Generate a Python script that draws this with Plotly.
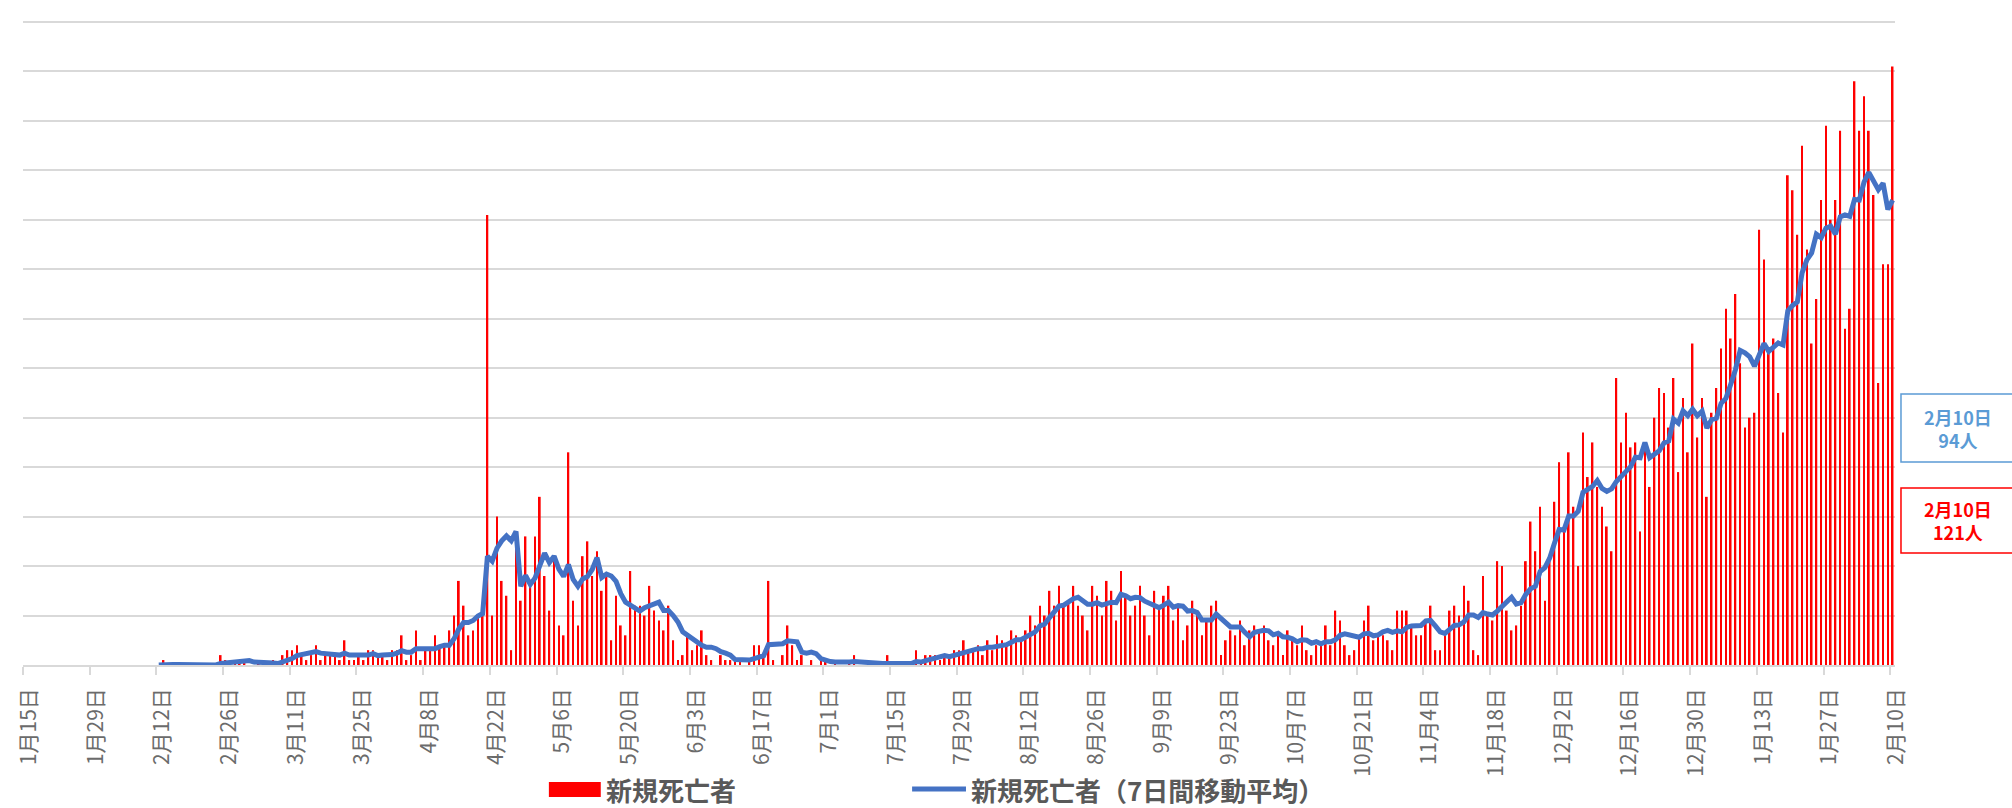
import pandas as pd
import plotly.graph_objects as go

# ---------------- data ----------------
start_date = "2020-02-12"

# daily new deaths
deaths_2020_02 = [0, 1, 0, 0, 0, 0, 0, 0, 0, 0, 0, 0, 0, 2, 1, 0, 1, 1]
deaths_2020_03 = [1, 0, 0, 1, 0, 0, 1, 0, 2, 3, 3, 4, 2, 1, 2, 4, 1, 2, 2, 2, 1, 5, 1, 1, 2, 1, 3, 3, 2, 2, 1]
deaths_2020_04 = [3, 3, 6, 1, 2, 7, 1, 3, 3, 6, 4, 4, 7, 10, 17, 12, 6, 7, 10, 11, 91, 10, 30, 17, 14, 3, 24, 13, 26, 17]
deaths_2020_05 = [26, 34, 18, 11, 22, 8, 6, 43, 13, 8, 22, 25, 18, 23, 15, 18, 5, 14, 8, 6, 19, 12, 12, 10, 16, 11, 9, 7, 12, 5, 1]
deaths_2020_06 = [2, 6, 3, 4, 7, 2, 1, 0, 2, 1, 1, 1, 1, 0, 1, 4, 4, 2, 17, 1, 0, 2, 8, 4, 1, 2, 0, 1, 0, 1]
deaths_2020_07 = [1, 0, 1, 0, 0, 1, 2, 0, 0, 0, 0, 0, 0, 2, 0, 0, 0, 0, 0, 3, 1, 2, 2, 2, 1, 2, 2, 3, 3, 5, 3]
deaths_2020_08 = [3, 4, 2, 5, 3, 6, 5, 4, 7, 6, 5, 7, 10, 8, 12, 10, 15, 12, 16, 12, 13, 16, 12, 10, 7, 16, 14, 10, 17, 15, 9]
deaths_2020_09 = [19, 14, 10, 12, 16, 10, 6, 15, 12, 14, 16, 9, 12, 5, 8, 13, 11, 6, 9, 12, 13, 2, 5, 7, 6, 9, 4, 7, 8, 7]
deaths_2020_10 = [8, 5, 4, 6, 2, 7, 5, 4, 8, 3, 2, 4, 4, 8, 4, 11, 9, 4, 2, 3, 6, 9, 12, 5, 6, 6, 5, 3, 11, 11, 11]
deaths_2020_11 = [8, 6, 6, 9, 12, 3, 3, 6, 11, 12, 10, 16, 13, 3, 2, 18, 10, 9, 21, 20, 11, 7, 8, 12, 21, 29, 23, 32, 13, 21]
deaths_2020_12 = [33, 41, 28, 43, 32, 20, 47, 38, 45, 36, 32, 28, 23, 58, 45, 51, 44, 45, 27, 45, 36, 50, 56, 55, 48, 58, 39, 54, 43, 65, 46]
deaths_2021_01 = [54, 34, 51, 56, 64, 72, 66, 75, 61, 48, 50, 51, 88, 82, 64, 66, 55, 47, 99, 96, 87, 105, 84, 65, 74, 94, 109, 90, 94, 108, 68]
deaths_2021_02 = [72, 118, 108, 115, 108, 95, 57, 81, 81, 121]

# 7-day moving average (blue line)
avg_2020_02 = [0.0, 0.1, 0.1, 0.1, 0.1, 0.1, 0.1, 0.1, 0.0, 0.0, 0.0, 0.0, 0.0, 0.3, 0.4, 0.4, 0.6, 0.7]
avg_2020_03 = [0.9, 0.9, 0.6, 0.6, 0.6, 0.4, 0.4, 0.3, 0.6, 1.0, 1.3, 1.9, 2.1, 2.1, 2.4, 2.7, 2.4, 2.3, 2.0, 2.0,
               2.0, 2.4, 2.0, 2.0, 2.0, 1.9, 2.0, 2.3, 1.9, 2.0, 2.0]
avg_2020_04 = [2.1, 2.4, 2.9, 2.6, 2.6, 3.3, 3.3, 3.3, 3.3, 3.3, 3.7, 4.0, 4.0, 5.3, 7.3, 8.6, 8.6, 9.0, 9.9, 10.4,
               22.0, 21.0, 23.6, 25.1, 26.1, 25.1, 27.0, 15.9, 18.1, 16.3]
avg_2020_05 = [17.6, 20.4, 22.6, 20.7, 22.0, 19.4, 17.9, 20.3, 17.3, 15.9, 17.4, 17.9, 19.3, 21.7, 17.7, 18.4,
               18.0, 16.9, 14.4, 12.7, 12.1, 11.7, 10.9, 11.6, 11.9, 12.3, 12.7, 11.0, 11.0, 10.0, 8.7]
avg_2020_06 = [6.7, 6.0, 5.1, 4.7, 4.0, 3.6, 3.6, 3.3, 2.7, 2.4, 2.0, 1.1, 1.0, 0.9, 1.0, 1.3, 1.7, 1.9, 4.1, 4.1,
               4.1, 4.3, 4.9, 4.9, 4.7, 2.6, 2.4, 2.6, 2.3, 1.3]
avg_2020_07 = [0.9, 0.7, 0.6, 0.6, 0.4, 0.6, 0.7, 0.6, 0.6, 0.4, 0.4, 0.4, 0.3, 0.3, 0.3, 0.3, 0.3, 0.3, 0.3, 0.7,
               0.6, 0.9, 1.1, 1.4, 1.6, 1.9, 1.7, 2.0, 2.1, 2.6, 2.7]
avg_2020_08 = [3.0, 3.3, 3.3, 3.6, 3.6, 3.7, 4.0, 4.1, 4.6, 5.1, 5.1, 5.7, 6.3, 6.7, 7.9, 8.3, 9.6, 10.6, 11.9, 12.1,
               12.9, 13.4, 13.7, 13.0, 12.3, 12.3, 12.6, 12.1, 12.3, 12.7, 12.6]
avg_2020_09 = [14.3, 14.0, 13.4, 13.7, 13.6, 12.9, 12.4, 11.9, 11.6, 12.1, 12.7, 11.7, 12.0, 11.9, 10.9, 11.0,
               10.6, 9.1, 9.1, 9.1, 10.3, 9.4, 8.3, 7.7, 7.7, 7.7, 6.6, 5.7, 6.6, 6.9]
avg_2020_10 = [7.0, 6.9, 6.1, 6.4, 5.7, 5.6, 5.3, 4.7, 5.1, 5.0, 4.4, 4.7, 4.3, 4.7, 4.7, 5.1, 6.0, 6.3, 6.0, 5.9,
               5.6, 6.3, 6.4, 5.9, 6.1, 6.7, 7.0, 6.6, 6.9, 6.7, 7.6]
avg_2020_11 = [7.9, 7.9, 8.0, 8.9, 9.0, 7.9, 6.7, 6.4, 7.1, 8.0, 8.1, 8.7, 10.1, 10.1, 9.6, 10.6, 10.3, 10.1, 10.9,
               11.9, 13.0, 13.7, 12.3, 12.6, 14.3, 15.4, 15.9, 18.9, 19.7, 21.6]
avg_2020_12 = [24.6, 27.4, 27.3, 30.1, 30.1, 31.1, 34.9, 35.6, 36.1, 37.3, 35.7, 35.1, 35.6, 37.1, 38.1, 39.0,
               40.1, 42.0, 41.9, 45.0, 41.9, 42.6, 43.3, 44.9, 45.3, 49.7, 48.9, 51.4, 50.4, 51.7, 50.4]
avg_2021_01 = [51.3, 47.9, 49.6, 49.9, 52.9, 53.9, 56.7, 59.7, 63.6, 63.1, 62.3, 60.4, 62.7, 65.0, 63.4, 64.1,
               65.1, 64.7, 71.6, 72.7, 73.4, 79.3, 81.9, 83.3, 87.1, 86.4, 88.3, 88.7, 87.1, 90.6, 91.0]
avg_2021_02 = [90.7, 94.1, 94.0, 97.6, 99.6, 97.7, 96.1, 97.4, 92.1, 94.0]

tick_labels = ["1月15日", "1月29日", "2月12日", "2月26日", "3月11日", "3月25日", "4月8日",
               "4月22日", "5月6日", "5月20日", "6月3日", "6月17日", "7月1日", "7月15日",
               "7月29日", "8月12日", "8月26日", "9月9日", "9月23日", "10月7日", "10月21日",
               "11月4日", "11月18日", "12月2日", "12月16日", "12月30日", "1月13日", "1月27日",
               "2月10日"]

legend_bar = "新規死亡者"
legend_line = "新規死亡者（7日間移動平均）"
last_label_date = "2月10日"
last_avg_label = "94人"
last_day_label = "121人"

deaths = (deaths_2020_02 + deaths_2020_03 + deaths_2020_04 + deaths_2020_05 + deaths_2020_06 +
          deaths_2020_07 + deaths_2020_08 + deaths_2020_09 + deaths_2020_10 + deaths_2020_11 +
          deaths_2020_12 + deaths_2021_01 + deaths_2021_02)
avg7 = (avg_2020_02 + avg_2020_03 + avg_2020_04 + avg_2020_05 + avg_2020_06 + avg_2020_07 +
        avg_2020_08 + avg_2020_09 + avg_2020_10 + avg_2020_11 + avg_2020_12 + avg_2021_01 + avg_2021_02)

dates = pd.date_range(start_date, periods=len(deaths), freq="D")
x_mid = dates + pd.Timedelta(hours=12)
tick_vals = pd.date_range("2020-01-15", periods=len(tick_labels), freq="14D")

# ---------------- figure ----------------
W, H = 2012, 808
L, R, T, B = 19, 117, 20, 143
pw, ph = W - L - R, H - T - B


def px(xp):
    return (xp - L) / pw


def py(yp):
    return (H - B - yp) / ph


fig = go.Figure()
fig.add_trace(go.Bar(x=x_mid, y=deaths, width=0.36 * 86400000,
                     marker=dict(color="#FF0000", line=dict(width=0)),
                     name=legend_bar, showlegend=False))
fig.add_trace(go.Scatter(x=x_mid, y=avg7, mode="lines",
                         line=dict(color="#4472C4", width=5),
                         name=legend_line, showlegend=False))

fig.update_layout(
    width=W, height=H,
    margin=dict(l=L, r=R, t=T, b=B),
    paper_bgcolor="white", plot_bgcolor="white",
    font=dict(family="Noto Sans CJK JP", color="#595959"),
    xaxis=dict(type="date", range=["2020-01-15", "2021-02-11"],
               tickmode="array", tickvals=tick_vals, ticktext=tick_labels,
               tickangle=-90, ticks="outside", ticklen=8, tickwidth=1.5,
               tickcolor="#D9D9D9", showline=True, linecolor="#D9D9D9",
               linewidth=1.5, showgrid=False, zeroline=False,
               tickfont=dict(size=21, color="#6B6B6B", family="Noto Sans CJK JP"),
               ticklabelshift=6, ticklabelstandoff=5),
    yaxis=dict(range=[0, 130.4], dtick=10, tick0=0, showgrid=True,
               gridcolor="#D9D9D9", gridwidth=1.5, showticklabels=False,
               zeroline=False, showline=False, ticks=""),
)

shapes = []
# legend keys
shapes.append(dict(type="rect", xref="paper", yref="paper",
                   x0=px(546), x1=px(598), y0=py(797), y1=py(782),
                   fillcolor="#FF0000", line=dict(width=0)))
shapes.append(dict(type="line", xref="paper", yref="paper",
                   x0=px(910), x1=px(964), y0=py(789), y1=py(789),
                   line=dict(color="#4472C4", width=5)))
# value boxes on the right
shapes.append(dict(type="rect", xref="paper", yref="paper",
                   x0=px(1901), x1=px(2030), y0=py(462), y1=py(394),
                   line=dict(color="#5B9BD5", width=1.5), fillcolor="white"))
shapes.append(dict(type="rect", xref="paper", yref="paper",
                   x0=px(1901), x1=px(2030), y0=py(553), y1=py(488),
                   line=dict(color="#FF0000", width=1.5), fillcolor="white"))
fig.update_layout(shapes=shapes)

ann = []
ann.append(dict(text="<b>" + legend_bar + "</b>", x=px(601), y=py(790), xref="paper", yref="paper",
                xanchor="left", yanchor="middle", showarrow=False,
                font=dict(size=26, color="#595959", family="Noto Sans CJK JP")))
ann.append(dict(text="<b>" + legend_line + "</b>", x=px(967), y=py(790), xref="paper", yref="paper",
                xanchor="left", yanchor="middle", showarrow=False,
                font=dict(size=26, color="#595959", family="Noto Sans CJK JP")))
ann.append(dict(text="<b>" + last_label_date + "<br>" + last_avg_label + "</b>",
                x=px(1958), y=py(428), xref="paper", yref="paper",
                xanchor="center", yanchor="middle", showarrow=False,
                font=dict(size=18, color="#5B9BD5", family="Noto Sans CJK JP")))
ann.append(dict(text="<b>" + last_label_date + "<br>" + last_day_label + "</b>",
                x=px(1958), y=py(520), xref="paper", yref="paper",
                xanchor="center", yanchor="middle", showarrow=False,
                font=dict(size=18, color="#FF0000", family="Noto Sans CJK JP")))
fig.update_layout(annotations=ann)

fig.write_html("out.html", config={"displayModeBar": False},
               post_script="document.body.style.margin='0px';")
